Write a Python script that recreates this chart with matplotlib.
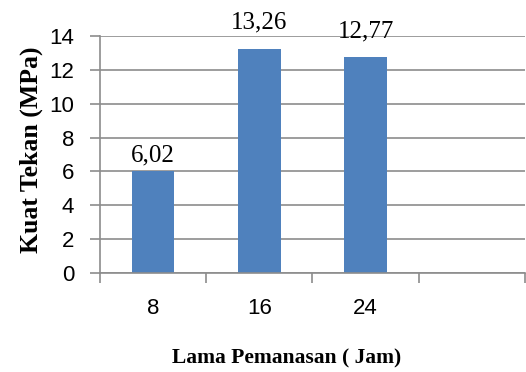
"""Kuat tekan vs lama pemanasan (bar chart)"""
import matplotlib.pyplot as plt
import numpy as np

# data
jam = ["8", "16", "24", ""]  # last slot left empty
kuat_tekan = [6.02, 13.26, 12.77]
label_nilai = ["6,02", "13,26", "12,77"]
y_ticks = [0, 2, 4, 6, 8, 10, 12, 14]

bar_color = "#4F81BD"
grid_color = "#8C8C8C"
label_offset = [11.5, 18.5, 18.5]  # points above each bar top

fig = plt.figure(figsize=(5.26, 3.72), dpi=100)
ax = fig.add_axes([0.190, 0.266, 0.808, 0.637])

x = np.arange(len(kuat_tekan))
ax.bar(x, kuat_tekan, width=0.4, color=bar_color, zorder=3)

# value labels above the bars
for xi, v, s, off in zip(x, kuat_tekan, label_nilai, label_offset):
    ax.annotate(s, (xi, v), xytext=(0, off), textcoords="offset points",
                ha="center", va="center", family="Liberation Serif",
                fontsize=18, annotation_clip=False)

ax.set_xlim(-0.5, len(jam) - 0.5)
ax.set_ylim(0, 14)
ax.set_yticks(y_ticks)
ax.set_yticklabels([str(t) for t in y_ticks], family="Liberation Sans", fontsize=16)

# category ticks sit on the boundaries, labels at the centres
ax.set_xticks(np.arange(len(jam) + 1) - 0.5)
ax.set_xticklabels([])
ax.set_xticks(np.arange(len(jam)), minor=True)
ax.set_xticklabels(jam, minor=True, family="Liberation Sans", fontsize=16)
ax.tick_params(axis="x", which="major", length=7, width=1.2, color=grid_color)
ax.tick_params(axis="x", which="minor", length=0, pad=18)
ax.tick_params(axis="y", length=7, width=1.2, color=grid_color, pad=11.5)

ax.yaxis.grid(True, color=grid_color, linewidth=1.2, zorder=0)
for side in ["top", "right"]:
    ax.spines[side].set_visible(False)
for side in ["left", "bottom"]:
    ax.spines[side].set_color(grid_color)
    ax.spines[side].set_linewidth(1.2)
    ax.spines[side].set_zorder(4)

ax.set_ylabel("Kuat Tekan (MPa)", family="Liberation Serif", fontweight="bold",
              fontsize=18.5, va="center")
ax.yaxis.set_label_coords(-0.162, 0.52)
ax.set_xlabel("Lama Pemanasan ( Jam)", family="Liberation Serif", fontweight="bold",
              fontsize=15.5, va="center")
ax.xaxis.set_label_coords(0.44, -0.36)

fig.savefig("out.png", dpi=100)
